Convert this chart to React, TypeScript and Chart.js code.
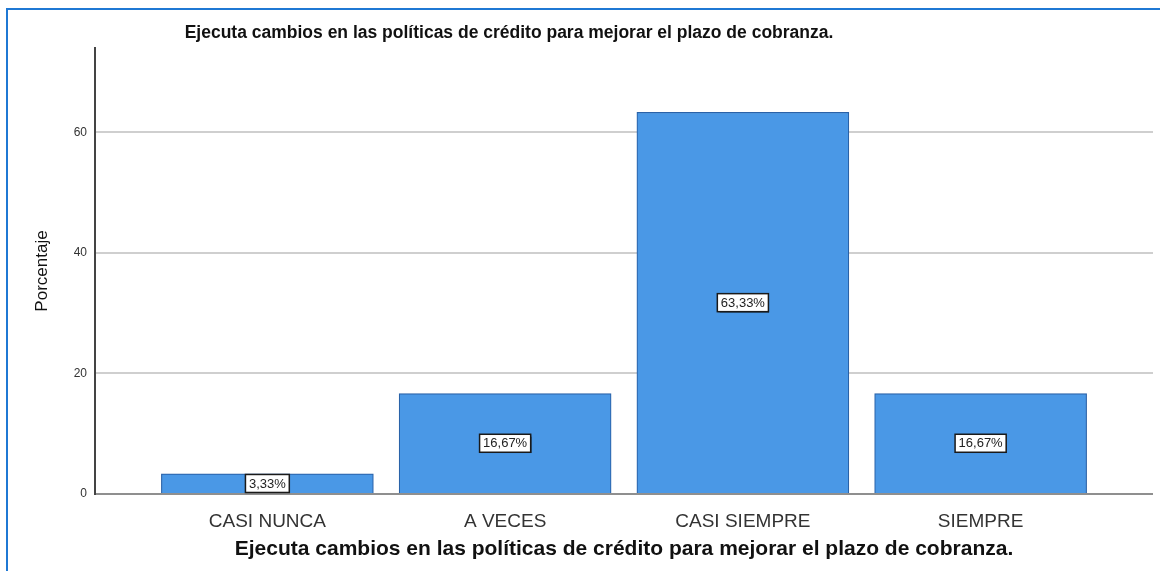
import React, { useEffect, useRef } from "react";
import { Chart, registerables } from "chart.js";

Chart.register(...registerables);

const CATEGORIES: string[] = ["CASI NUNCA", "A VECES", "CASI SIEMPRE", "SIEMPRE"];
const PERCENTS: number[] = [3.33, 16.67, 63.33, 16.67];
const VALUE_LABELS: string[] = ["3,33%", "16,67%", "63,33%", "16,67%"];
const Y_TICKS: number[] = [0, 20, 40, 60];
const TITLE = "Ejecuta cambios en las políticas de crédito para mejorar el plazo de cobranza.";
const X_TITLE = "Ejecuta cambios en las políticas de crédito para mejorar el plazo de cobranza.";
const Y_TITLE = "Porcentaje";

const FONT = "'Liberation Sans', Arial, Helvetica, sans-serif";

const topTitlePlugin = {
  id: "topTitle",
  afterDraw(chart: any) {
    const ctx = chart.ctx;
    ctx.save();
    ctx.font = `bold 17.5px ${FONT}`;
    ctx.fillStyle = "#111111";
    ctx.textAlign = "center";
    ctx.textBaseline = "middle";
    ctx.fillText(TITLE, 509, 33);
    ctx.restore();
  },
};

const valueLabelPlugin = {
  id: "valueLabels",
  afterDatasetsDraw(chart: any) {
    const ctx = chart.ctx;
    const meta = chart.getDatasetMeta(0);
    ctx.save();
    ctx.font = `13px ${FONT}`;
    ctx.textAlign = "center";
    ctx.textBaseline = "middle";
    meta.data.forEach((bar: any, i: number) => {
      const text = VALUE_LABELS[i];
      const cx = bar.x;
      const cy = (bar.y + bar.base) / 2;
      const w = ctx.measureText(text).width + 7;
      const h = 18;
      ctx.shadowColor = "rgba(0,0,0,0.35)";
      ctx.shadowOffsetX = 1;
      ctx.shadowOffsetY = 1;
      ctx.shadowBlur = 1;
      ctx.fillStyle = "#ffffff";
      ctx.fillRect(cx - w / 2, cy - h / 2, w, h);
      ctx.shadowColor = "transparent";
      ctx.lineWidth = 1.5;
      ctx.strokeStyle = "#1a1a1a";
      ctx.strokeRect(cx - w / 2, cy - h / 2, w, h);
      ctx.fillStyle = "#222222";
      ctx.fillText(text, cx, cy + 0.5);
    });
    ctx.restore();
  },
};

export default function App() {
  const canvasRef = useRef<HTMLCanvasElement | null>(null);

  useEffect(() => {
    document.body.style.margin = "0";
    const canvas = canvasRef.current;
    if (!canvas) return;
    const chart = new Chart(canvas, {
      type: "bar",
      data: {
        datasets: [
          {
            label: Y_TITLE,
            data: PERCENTS.map((v, i) => ({ x: i, y: v })),
            backgroundColor: "#4a98e6",
            borderColor: "#2a62a8",
            borderWidth: 1.2,
            barThickness: 212,
          },
        ],
      },
      options: {
        animation: false,
        responsive: false,
        devicePixelRatio: 1,
        layout: { padding: { top: 48, right: 7, left: 0, bottom: 0 } },
        plugins: {
          legend: { display: false },
          tooltip: { enabled: false },
          title: { display: false },
        },
        scales: {
          x: {
            type: "linear",
            offset: false,
            min: -0.725,
            max: 3.725,
            grid: { display: false, offset: false },
            border: { display: false },
            afterBuildTicks: (scale: any) => {
              scale.ticks = CATEGORIES.map((_, i) => ({ value: i }));
            },
            afterFit: (scale: any) => {
              scale.height = 77;
            },
            ticks: {
              autoSkip: false,
              maxRotation: 0,
              padding: 8,
              color: "#333333",
              font: { family: FONT, size: 19 },
              callback: (value: any) => CATEGORIES[Math.round(Number(value))] ?? "",
            },
            title: {
              display: true,
              text: X_TITLE,
              color: "#111111",
              font: { family: FONT, size: 21, weight: "bold" },
              padding: { top: 0, bottom: 9 },
            },
          },
          y: {
            min: 0,
            max: 74,
            afterBuildTicks: (scale: any) => {
              scale.ticks = Y_TICKS.map((v) => ({ value: v }));
            },
            afterFit: (scale: any) => {
              scale.width = 95;
            },
            grid: {
              drawTicks: false,
              color: (c: any) => (c.tick && c.tick.value === 0 ? "#8f8f8f" : "#cfcfcf"),
              lineWidth: 2,
            },
            border: { display: true, color: "#444444", width: 2 },
            ticks: {
              padding: 8,
              color: "#333333",
              font: { family: FONT, size: 12 },
            },
            title: {
              display: true,
              text: Y_TITLE,
              color: "#111111",
              font: { family: FONT, size: 17 },
              padding: { top: 32, bottom: 0 },
            },
          },
        },
      },
      plugins: [topTitlePlugin, valueLabelPlugin],
    } as any);
    return () => chart.destroy();
  }, []);

  return (
    <div style={{ position: "relative", width: 1160, height: 571, overflow: "hidden", background: "#ffffff" }}>
      <div
        style={{
          position: "absolute",
          left: 6,
          top: 8,
          width: 1200,
          height: 700,
          border: "2px solid #1f78d4",
          boxSizing: "border-box",
        }}
      />
      <canvas
        ref={canvasRef}
        width={1160}
        height={571}
        style={{ position: "absolute", left: 0, top: 0, width: 1160, height: 571 }}
      />
    </div>
  );
}
